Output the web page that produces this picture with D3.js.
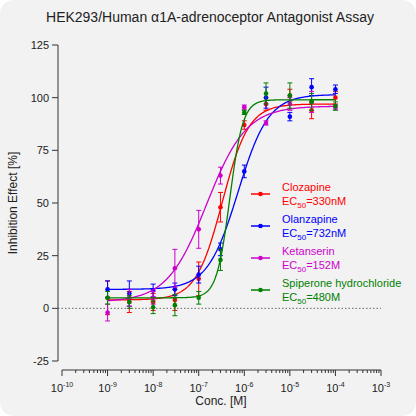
<!DOCTYPE html><html><head><meta charset="utf-8"><script src="https://d3js.org/d3.v7.min.js"></script>
<style>body{margin:0;background:#fff}svg{font-family:Arial,"Liberation Sans",sans-serif}</style></head><body><svg id="c" width="416" height="416"></svg>
<script>
const conc=[1e-9,3e-9,1e-8,3e-8,1e-7,3e-7,1e-6,3e-6,1e-5,3e-5,1e-4];
const names=["Clozapine","Olanzapine","Ketanserin","Spiperone hydrochloride"];
const ecLabels=["330nM","732nM","152M","480M"];
const colors=["#ff0000","#0000ff","#cc00cc","#008000"];
const vals=[
[5,3,3,4,14,48,87,97,101,94,100],
[9,7,8.5,9,16,28,65,100,91,105,104],
[-2,5,5,19,37.5,63,95.5,88,97,98,95.5],
[5,3,0.5,1.5,5,23,93,102,101,98,96]];
const errs=[
[8,5,4,5,8,7,2,3,3,4,3],
[4,6,3,3,4,3,3,5,2,4,2],
[4,4,3,9,9,4,1,1,3,5,1],
[3,3,3,5,3,5,1,5,6,4,2]];
const fits=[ // bottom, top, EC50, hill
[4,97,3.3e-7,1.5],[9,101.5,7.3e-7,1.3],[3,96,1.5e-7,1.0],[5,99,4.8e-7,3]];
const yTicks=[-25,0,25,50,75,100,125];
const xTicks=[1e-10,1e-9,1e-8,1e-7,1e-6,1e-5,1e-4,1e-3];

const svg=d3.select("#c");
svg.append("rect").attr("width",416).attr("height",416).attr("rx",14).attr("fill","#f2f2f2");
const x=d3.scaleLog().domain([1e-10,1e-3]).range([62,381]);
const y=d3.scaleLinear().domain([-25,125]).range([361,45]);
const ax=svg.append("g").attr("stroke","#000");
ax.append("line").attr("x1",58).attr("x2",58).attr("y1",45).attr("y2",361).attr("stroke","#333");
yTicks.forEach(t=>{ax.append("line").attr("x1",52).attr("x2",58).attr("y1",y(t)).attr("y2",y(t)).attr("stroke","#333");
 svg.append("text").attr("x",49).attr("y",y(t)+4).attr("text-anchor","end").attr("font-size",11).attr("fill","#222").text(t);});
ax.append("line").attr("x1",62).attr("x2",381).attr("y1",370).attr("y2",370).attr("stroke","#333");
for(let e=-10;e<=-3;e++){ax.append("line").attr("x1",x(10**e)).attr("x2",x(10**e)).attr("y1",370).attr("y2",376).attr("stroke","#333");
 if(e<-3)for(let k=2;k<10;k++){const v=k*10**e;ax.append("line").attr("x1",x(v)).attr("x2",x(v)).attr("y1",370).attr("y2",373).attr("stroke","#333");}
 const tx=svg.append("text").attr("x",x(10**e)).attr("y",392).attr("text-anchor","middle").attr("font-size",11).attr("fill","#222");
 tx.append("tspan").text("10");tx.append("tspan").attr("dy",-5).attr("font-size",7).text(e);}
svg.append("text").attr("x",221).attr("y",405).attr("text-anchor","middle").attr("font-size",12).attr("fill","#222").text("Conc. [M]");
svg.append("text").attr("transform","translate(17,203) rotate(-90)").attr("text-anchor","middle").attr("font-size",12).attr("fill","#222").text("Inhibition Effect [%]");
svg.append("text").attr("x",210).attr("y",22).attr("text-anchor","middle").attr("font-size",14).attr("fill","#222").text("HEK293/Human α1A-adrenoceptor Antagonist Assay");
svg.append("line").attr("x1",58).attr("x2",381).attr("y1",y(0)).attr("y2",y(0)).attr("stroke","#666").attr("stroke-dasharray","1.5,2");
const grid=d3.range(-9,-4+0.001,0.02).map(v=>10**v);
fits.forEach((f,i)=>{const [b,t,ec,h]=f;
 svg.append("path").attr("d",d3.line().x(c=>x(c)).y(c=>y(b+(t-b)/(1+Math.pow(ec/c,h))))(grid)).attr("fill","none").attr("stroke",colors[i]).attr("stroke-width",1.3);
 const g=svg.append("g").attr("stroke",colors[i]).attr("fill",colors[i]);
 conc.forEach((c,j)=>{const v=vals[i][j],e=errs[i][j],cx=x(c);
  g.append("line").attr("x1",cx).attr("x2",cx).attr("y1",y(v-e)).attr("y2",y(v+e)).attr("stroke-width",1);
  [v-e,v+e].forEach(w=>g.append("line").attr("x1",cx-2.5).attr("x2",cx+2.5).attr("y1",y(w)).attr("y2",y(w)).attr("stroke-width",1));
  g.append("circle").attr("cx",cx).attr("cy",y(v)).attr("r",2.3).attr("stroke","none");});
 const ly=194+i*32;
 svg.append("line").attr("x1",251).attr("x2",270).attr("y1",ly).attr("y2",ly).attr("stroke",colors[i]).attr("stroke-width",1.5);
 svg.append("circle").attr("cx",260.5).attr("cy",ly).attr("r",2.3).attr("fill",colors[i]);
 svg.append("text").attr("x",282).attr("y",ly-3).attr("font-size",11).attr("fill",colors[i]).text(names[i]);
 const t2=svg.append("text").attr("x",282).attr("y",ly+11).attr("font-size",11).attr("fill",colors[i]);
 t2.append("tspan").text("EC");t2.append("tspan").attr("dy",3).attr("font-size",8).text("50");t2.append("tspan").attr("dy",-3).text("="+ecLabels[i]);
});
</script></body></html>
